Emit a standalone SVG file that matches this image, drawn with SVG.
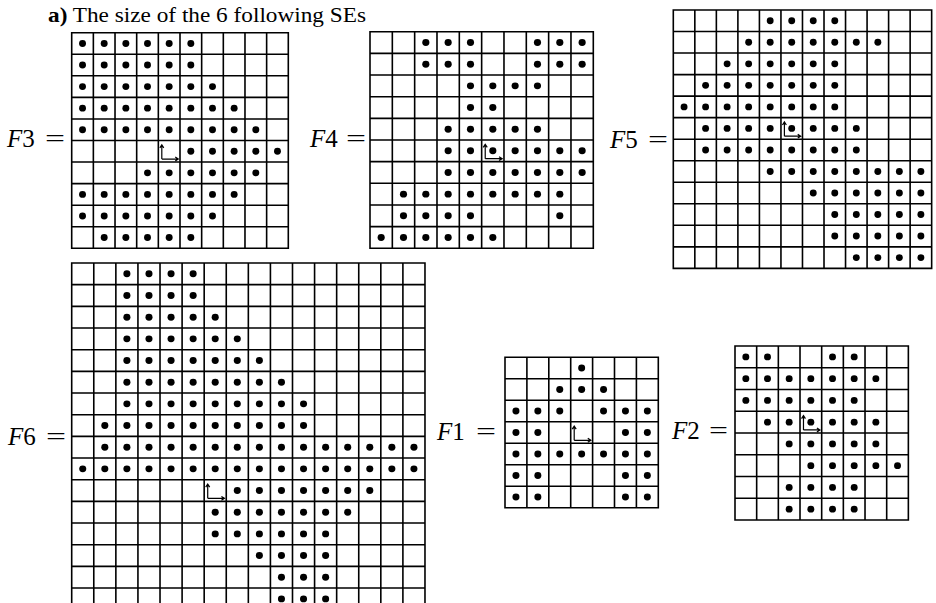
<svg xmlns="http://www.w3.org/2000/svg" xmlns:xlink="http://www.w3.org/1999/xlink" width="936" height="603" viewBox="0 0 936 603">
<defs>
<style>
.grid{fill:none;stroke:#000;stroke-width:1.6;stroke-linecap:square;vector-effect:non-scaling-stroke}
.dots{fill:#000}
.ax{fill:none;stroke:#000;stroke-width:1.2;vector-effect:non-scaling-stroke}
.lbl{font-family:"Liberation Serif","Times New Roman",serif;font-size:25px;fill:#000}
.title{font-family:"Liberation Serif","Times New Roman",serif;font-size:22px;fill:#000}
</style>
<g id="o"><path class="ax" d="M.16 .86V.2M.16 .86H.92M.07 .34L.16 .2L.25 .34M.78 .77L.92 .86L.78 .95"/></g>
</defs>
<rect width="936" height="603" fill="#fff"/>
<text class="title" x="48" y="22" textLength="318" lengthAdjust="spacingAndGlyphs"><tspan font-weight="bold">a)</tspan> The size of the 6 following SEs</text>

<g id="F3">
<text class="lbl" x="7" y="147"><tspan font-style="italic">F</tspan>3</text>
<text class="lbl" x="45" y="147" textLength="20" lengthAdjust="spacingAndGlyphs">=</text>
<g transform="translate(71.7,32.7) scale(21.66,21.56)">
<path class="grid" d="M0 0H10M0 1H10M0 2H10M0 3H10M0 4H10M0 5H10M0 6H10M0 7H10M0 8H10M0 9H10M0 10H10M0 0V10M1 0V10M2 0V10M3 0V10M4 0V10M5 0V10M6 0V10M7 0V10M8 0V10M9 0V10M10 0V10"/>
<g class="dots">
<circle cx=".5" cy=".5" r=".16"/><circle cx="1.5" cy=".5" r=".16"/><circle cx="2.5" cy=".5" r=".16"/><circle cx="3.5" cy=".5" r=".16"/><circle cx="4.5" cy=".5" r=".16"/><circle cx="5.5" cy=".5" r=".16"/>
<circle cx=".5" cy="1.5" r=".16"/><circle cx="1.5" cy="1.5" r=".16"/><circle cx="2.5" cy="1.5" r=".16"/><circle cx="3.5" cy="1.5" r=".16"/><circle cx="4.5" cy="1.5" r=".16"/><circle cx="5.5" cy="1.5" r=".16"/>
<circle cx=".5" cy="2.5" r=".16"/><circle cx="1.5" cy="2.5" r=".16"/><circle cx="2.5" cy="2.5" r=".16"/><circle cx="3.5" cy="2.5" r=".16"/><circle cx="4.5" cy="2.5" r=".16"/><circle cx="5.5" cy="2.5" r=".16"/><circle cx="6.5" cy="2.5" r=".16"/>
<circle cx=".5" cy="3.5" r=".16"/><circle cx="1.5" cy="3.5" r=".16"/><circle cx="2.5" cy="3.5" r=".16"/><circle cx="3.5" cy="3.5" r=".16"/><circle cx="4.5" cy="3.5" r=".16"/><circle cx="5.5" cy="3.5" r=".16"/><circle cx="6.5" cy="3.5" r=".16"/><circle cx="7.5" cy="3.5" r=".16"/>
<circle cx=".5" cy="4.5" r=".16"/><circle cx="1.5" cy="4.5" r=".16"/><circle cx="2.5" cy="4.5" r=".16"/><circle cx="3.5" cy="4.5" r=".16"/><circle cx="4.5" cy="4.5" r=".16"/><circle cx="5.5" cy="4.5" r=".16"/><circle cx="6.5" cy="4.5" r=".16"/><circle cx="7.5" cy="4.5" r=".16"/><circle cx="8.5" cy="4.5" r=".16"/>
<circle cx="5.5" cy="5.5" r=".16"/><circle cx="6.5" cy="5.5" r=".16"/><circle cx="7.5" cy="5.5" r=".16"/><circle cx="8.5" cy="5.5" r=".16"/><circle cx="9.5" cy="5.5" r=".16"/>
<circle cx="3.5" cy="6.5" r=".16"/><circle cx="4.5" cy="6.5" r=".16"/><circle cx="5.5" cy="6.5" r=".16"/><circle cx="6.5" cy="6.5" r=".16"/><circle cx="7.5" cy="6.5" r=".16"/><circle cx="8.5" cy="6.5" r=".16"/>
<circle cx=".5" cy="7.5" r=".16"/><circle cx="1.5" cy="7.5" r=".16"/><circle cx="2.5" cy="7.5" r=".16"/><circle cx="3.5" cy="7.5" r=".16"/><circle cx="4.5" cy="7.5" r=".16"/><circle cx="5.5" cy="7.5" r=".16"/><circle cx="6.5" cy="7.5" r=".16"/><circle cx="7.5" cy="7.5" r=".16"/>
<circle cx=".5" cy="8.5" r=".16"/><circle cx="1.5" cy="8.5" r=".16"/><circle cx="2.5" cy="8.5" r=".16"/><circle cx="3.5" cy="8.5" r=".16"/><circle cx="4.5" cy="8.5" r=".16"/><circle cx="5.5" cy="8.5" r=".16"/><circle cx="6.5" cy="8.5" r=".16"/>
<circle cx="1.5" cy="9.5" r=".16"/><circle cx="2.5" cy="9.5" r=".16"/><circle cx="3.5" cy="9.5" r=".16"/><circle cx="4.5" cy="9.5" r=".16"/><circle cx="5.5" cy="9.5" r=".16"/>
</g>
<use xlink:href="#o" href="#o" transform="translate(4,5)"/>
</g>
</g>

<g id="F4">
<text class="lbl" x="310" y="147"><tspan font-style="italic">F</tspan>4</text>
<text class="lbl" x="346" y="147" textLength="20" lengthAdjust="spacingAndGlyphs">=</text>
<g transform="translate(370,31.7) scale(22.33,21.66)">
<path class="grid" d="M0 0H10M0 1H10M0 2H10M0 3H10M0 4H10M0 5H10M0 6H10M0 7H10M0 8H10M0 9H10M0 10H10M0 0V10M1 0V10M2 0V10M3 0V10M4 0V10M5 0V10M6 0V10M7 0V10M8 0V10M9 0V10M10 0V10"/>
<g class="dots">
<circle cx="2.5" cy=".5" r=".16"/><circle cx="3.5" cy=".5" r=".16"/><circle cx="4.5" cy=".5" r=".16"/><circle cx="7.5" cy=".5" r=".16"/><circle cx="8.5" cy=".5" r=".16"/><circle cx="9.5" cy=".5" r=".16"/>
<circle cx="2.5" cy="1.5" r=".16"/><circle cx="3.5" cy="1.5" r=".16"/><circle cx="4.5" cy="1.5" r=".16"/><circle cx="7.5" cy="1.5" r=".16"/><circle cx="8.5" cy="1.5" r=".16"/><circle cx="9.5" cy="1.5" r=".16"/>
<circle cx="4.5" cy="2.5" r=".16"/><circle cx="5.5" cy="2.5" r=".16"/><circle cx="6.5" cy="2.5" r=".16"/><circle cx="7.5" cy="2.5" r=".16"/>
<circle cx="4.5" cy="3.5" r=".16"/><circle cx="5.5" cy="3.5" r=".16"/>
<circle cx="3.5" cy="4.5" r=".16"/><circle cx="4.5" cy="4.5" r=".16"/><circle cx="5.5" cy="4.5" r=".16"/><circle cx="6.5" cy="4.5" r=".16"/><circle cx="7.5" cy="4.5" r=".16"/>
<circle cx="3.5" cy="5.5" r=".16"/><circle cx="4.5" cy="5.5" r=".16"/><circle cx="5.5" cy="5.5" r=".16"/><circle cx="6.5" cy="5.5" r=".16"/><circle cx="7.5" cy="5.5" r=".16"/><circle cx="8.5" cy="5.5" r=".16"/><circle cx="9.5" cy="5.5" r=".16"/>
<circle cx="3.5" cy="6.5" r=".16"/><circle cx="4.5" cy="6.5" r=".16"/><circle cx="5.5" cy="6.5" r=".16"/><circle cx="6.5" cy="6.5" r=".16"/><circle cx="7.5" cy="6.5" r=".16"/><circle cx="8.5" cy="6.5" r=".16"/><circle cx="9.5" cy="6.5" r=".16"/>
<circle cx="1.5" cy="7.5" r=".16"/><circle cx="2.5" cy="7.5" r=".16"/><circle cx="3.5" cy="7.5" r=".16"/><circle cx="4.5" cy="7.5" r=".16"/><circle cx="5.5" cy="7.5" r=".16"/><circle cx="6.5" cy="7.5" r=".16"/><circle cx="7.5" cy="7.5" r=".16"/><circle cx="8.5" cy="7.5" r=".16"/>
<circle cx="1.5" cy="8.5" r=".16"/><circle cx="2.5" cy="8.5" r=".16"/><circle cx="3.5" cy="8.5" r=".16"/><circle cx="4.5" cy="8.5" r=".16"/><circle cx="8.5" cy="8.5" r=".16"/>
<circle cx=".5" cy="9.5" r=".16"/><circle cx="1.5" cy="9.5" r=".16"/><circle cx="2.5" cy="9.5" r=".16"/><circle cx="3.5" cy="9.5" r=".16"/><circle cx="4.5" cy="9.5" r=".16"/><circle cx="5.5" cy="9.5" r=".16"/>
</g>
<use xlink:href="#o" href="#o" transform="translate(5,5)"/>
</g>
</g>

<g id="F5">
<text class="lbl" x="610" y="148"><tspan font-style="italic">F</tspan>5</text>
<text class="lbl" x="648" y="148" textLength="20" lengthAdjust="spacingAndGlyphs">=</text>
<g transform="translate(673.3,10) scale(21.53,21.53)">
<path class="grid" d="M0 0H12M0 1H12M0 2H12M0 3H12M0 4H12M0 5H12M0 6H12M0 7H12M0 8H12M0 9H12M0 10H12M0 11H12M0 12H12M0 0V12M1 0V12M2 0V12M3 0V12M4 0V12M5 0V12M6 0V12M7 0V12M8 0V12M9 0V12M10 0V12M11 0V12M12 0V12"/>
<g class="dots">
<circle cx="4.5" cy=".5" r=".16"/><circle cx="5.5" cy=".5" r=".16"/><circle cx="6.5" cy=".5" r=".16"/><circle cx="7.5" cy=".5" r=".16"/>
<circle cx="3.5" cy="1.5" r=".16"/><circle cx="4.5" cy="1.5" r=".16"/><circle cx="5.5" cy="1.5" r=".16"/><circle cx="6.5" cy="1.5" r=".16"/><circle cx="7.5" cy="1.5" r=".16"/><circle cx="8.5" cy="1.5" r=".16"/><circle cx="9.5" cy="1.5" r=".16"/>
<circle cx="2.5" cy="2.5" r=".16"/><circle cx="3.5" cy="2.5" r=".16"/><circle cx="4.5" cy="2.5" r=".16"/><circle cx="5.5" cy="2.5" r=".16"/><circle cx="6.5" cy="2.5" r=".16"/><circle cx="7.5" cy="2.5" r=".16"/>
<circle cx="1.5" cy="3.5" r=".16"/><circle cx="2.5" cy="3.5" r=".16"/><circle cx="3.5" cy="3.5" r=".16"/><circle cx="4.5" cy="3.5" r=".16"/><circle cx="5.5" cy="3.5" r=".16"/><circle cx="6.5" cy="3.5" r=".16"/><circle cx="7.5" cy="3.5" r=".16"/>
<circle cx=".5" cy="4.5" r=".16"/><circle cx="1.5" cy="4.5" r=".16"/><circle cx="2.5" cy="4.5" r=".16"/><circle cx="3.5" cy="4.5" r=".16"/><circle cx="4.5" cy="4.5" r=".16"/><circle cx="5.5" cy="4.5" r=".16"/><circle cx="6.5" cy="4.5" r=".16"/><circle cx="7.5" cy="4.5" r=".16"/>
<circle cx="1.5" cy="5.5" r=".16"/><circle cx="2.5" cy="5.5" r=".16"/><circle cx="3.5" cy="5.5" r=".16"/><circle cx="4.5" cy="5.5" r=".16"/><circle cx="5.5" cy="5.5" r=".16"/><circle cx="6.5" cy="5.5" r=".16"/><circle cx="7.5" cy="5.5" r=".16"/><circle cx="8.5" cy="5.5" r=".16"/>
<circle cx="1.5" cy="6.5" r=".16"/><circle cx="2.5" cy="6.5" r=".16"/><circle cx="3.5" cy="6.5" r=".16"/><circle cx="4.5" cy="6.5" r=".16"/><circle cx="5.5" cy="6.5" r=".16"/><circle cx="6.5" cy="6.5" r=".16"/><circle cx="7.5" cy="6.5" r=".16"/><circle cx="8.5" cy="6.5" r=".16"/>
<circle cx="4.5" cy="7.5" r=".16"/><circle cx="5.5" cy="7.5" r=".16"/><circle cx="6.5" cy="7.5" r=".16"/><circle cx="7.5" cy="7.5" r=".16"/><circle cx="8.5" cy="7.5" r=".16"/><circle cx="9.5" cy="7.5" r=".16"/><circle cx="10.5" cy="7.5" r=".16"/><circle cx="11.5" cy="7.5" r=".16"/>
<circle cx="6.5" cy="8.5" r=".16"/><circle cx="7.5" cy="8.5" r=".16"/><circle cx="8.5" cy="8.5" r=".16"/><circle cx="9.5" cy="8.5" r=".16"/><circle cx="10.5" cy="8.5" r=".16"/><circle cx="11.5" cy="8.5" r=".16"/>
<circle cx="7.5" cy="9.5" r=".16"/><circle cx="8.5" cy="9.5" r=".16"/><circle cx="9.5" cy="9.5" r=".16"/><circle cx="10.5" cy="9.5" r=".16"/><circle cx="11.5" cy="9.5" r=".16"/>
<circle cx="7.5" cy="10.5" r=".16"/><circle cx="8.5" cy="10.5" r=".16"/><circle cx="9.5" cy="10.5" r=".16"/><circle cx="10.5" cy="10.5" r=".16"/><circle cx="11.5" cy="10.5" r=".16"/>
<circle cx="8.5" cy="11.5" r=".16"/><circle cx="9.5" cy="11.5" r=".16"/><circle cx="10.5" cy="11.5" r=".16"/><circle cx="11.5" cy="11.5" r=".16"/>
</g>
<use xlink:href="#o" href="#o" transform="translate(5,5)"/>
</g>
</g>

<g id="F6">
<text class="lbl" x="8" y="445"><tspan font-style="italic">F</tspan>6</text>
<text class="lbl" x="46" y="445" textLength="20" lengthAdjust="spacingAndGlyphs">=</text>
<g transform="translate(71.7,263) scale(22.08,21.67)">
<path class="grid" d="M0 0H16M0 1H16M0 2H16M0 3H16M0 4H16M0 5H16M0 6H16M0 7H16M0 8H16M0 9H16M0 10H16M0 11H16M0 12H16M0 13H16M0 14H16M0 15H16M0 16H16M0 0V16M1 0V16M2 0V16M3 0V16M4 0V16M5 0V16M6 0V16M7 0V16M8 0V16M9 0V16M10 0V16M11 0V16M12 0V16M13 0V16M14 0V16M15 0V16M16 0V16"/>
<g class="dots">
<circle cx="2.5" cy=".5" r=".16"/><circle cx="3.5" cy=".5" r=".16"/><circle cx="4.5" cy=".5" r=".16"/><circle cx="5.5" cy=".5" r=".16"/>
<circle cx="2.5" cy="1.5" r=".16"/><circle cx="3.5" cy="1.5" r=".16"/><circle cx="4.5" cy="1.5" r=".16"/><circle cx="5.5" cy="1.5" r=".16"/>
<circle cx="2.5" cy="2.5" r=".16"/><circle cx="3.5" cy="2.5" r=".16"/><circle cx="4.5" cy="2.5" r=".16"/><circle cx="5.5" cy="2.5" r=".16"/><circle cx="6.5" cy="2.5" r=".16"/>
<circle cx="2.5" cy="3.5" r=".16"/><circle cx="3.5" cy="3.5" r=".16"/><circle cx="4.5" cy="3.5" r=".16"/><circle cx="5.5" cy="3.5" r=".16"/><circle cx="6.5" cy="3.5" r=".16"/><circle cx="7.5" cy="3.5" r=".16"/>
<circle cx="2.5" cy="4.5" r=".16"/><circle cx="3.5" cy="4.5" r=".16"/><circle cx="4.5" cy="4.5" r=".16"/><circle cx="5.5" cy="4.5" r=".16"/><circle cx="6.5" cy="4.5" r=".16"/><circle cx="7.5" cy="4.5" r=".16"/><circle cx="8.5" cy="4.5" r=".16"/>
<circle cx="2.5" cy="5.5" r=".16"/><circle cx="3.5" cy="5.5" r=".16"/><circle cx="4.5" cy="5.5" r=".16"/><circle cx="5.5" cy="5.5" r=".16"/><circle cx="6.5" cy="5.5" r=".16"/><circle cx="7.5" cy="5.5" r=".16"/><circle cx="8.5" cy="5.5" r=".16"/><circle cx="9.5" cy="5.5" r=".16"/>
<circle cx="2.5" cy="6.5" r=".16"/><circle cx="3.5" cy="6.5" r=".16"/><circle cx="4.5" cy="6.5" r=".16"/><circle cx="5.5" cy="6.5" r=".16"/><circle cx="6.5" cy="6.5" r=".16"/><circle cx="7.5" cy="6.5" r=".16"/><circle cx="8.5" cy="6.5" r=".16"/><circle cx="9.5" cy="6.5" r=".16"/><circle cx="10.5" cy="6.5" r=".16"/>
<circle cx="1.5" cy="7.5" r=".16"/><circle cx="2.5" cy="7.5" r=".16"/><circle cx="3.5" cy="7.5" r=".16"/><circle cx="4.5" cy="7.5" r=".16"/><circle cx="5.5" cy="7.5" r=".16"/><circle cx="6.5" cy="7.5" r=".16"/><circle cx="7.5" cy="7.5" r=".16"/><circle cx="8.5" cy="7.5" r=".16"/><circle cx="9.5" cy="7.5" r=".16"/><circle cx="10.5" cy="7.5" r=".16"/>
<circle cx="1.5" cy="8.5" r=".16"/><circle cx="2.5" cy="8.5" r=".16"/><circle cx="3.5" cy="8.5" r=".16"/><circle cx="4.5" cy="8.5" r=".16"/><circle cx="5.5" cy="8.5" r=".16"/><circle cx="6.5" cy="8.5" r=".16"/><circle cx="7.5" cy="8.5" r=".16"/><circle cx="8.5" cy="8.5" r=".16"/><circle cx="9.5" cy="8.5" r=".16"/><circle cx="10.5" cy="8.5" r=".16"/><circle cx="11.5" cy="8.5" r=".16"/><circle cx="12.5" cy="8.5" r=".16"/><circle cx="13.5" cy="8.5" r=".16"/><circle cx="14.5" cy="8.5" r=".16"/><circle cx="15.5" cy="8.5" r=".16"/>
<circle cx=".5" cy="9.5" r=".16"/><circle cx="1.5" cy="9.5" r=".16"/><circle cx="2.5" cy="9.5" r=".16"/><circle cx="3.5" cy="9.5" r=".16"/><circle cx="4.5" cy="9.5" r=".16"/><circle cx="5.5" cy="9.5" r=".16"/><circle cx="6.5" cy="9.5" r=".16"/><circle cx="7.5" cy="9.5" r=".16"/><circle cx="8.5" cy="9.5" r=".16"/><circle cx="9.5" cy="9.5" r=".16"/><circle cx="10.5" cy="9.5" r=".16"/><circle cx="11.5" cy="9.5" r=".16"/><circle cx="12.5" cy="9.5" r=".16"/><circle cx="13.5" cy="9.5" r=".16"/><circle cx="14.5" cy="9.5" r=".16"/><circle cx="15.5" cy="9.5" r=".16"/>
<circle cx="7.5" cy="10.5" r=".16"/><circle cx="8.5" cy="10.5" r=".16"/><circle cx="9.5" cy="10.5" r=".16"/><circle cx="10.5" cy="10.5" r=".16"/><circle cx="11.5" cy="10.5" r=".16"/><circle cx="12.5" cy="10.5" r=".16"/><circle cx="13.5" cy="10.5" r=".16"/>
<circle cx="6.5" cy="11.5" r=".16"/><circle cx="7.5" cy="11.5" r=".16"/><circle cx="8.5" cy="11.5" r=".16"/><circle cx="9.5" cy="11.5" r=".16"/><circle cx="10.5" cy="11.5" r=".16"/><circle cx="11.5" cy="11.5" r=".16"/><circle cx="12.5" cy="11.5" r=".16"/>
<circle cx="6.5" cy="12.5" r=".16"/><circle cx="7.5" cy="12.5" r=".16"/><circle cx="8.5" cy="12.5" r=".16"/><circle cx="9.5" cy="12.5" r=".16"/><circle cx="10.5" cy="12.5" r=".16"/><circle cx="11.5" cy="12.5" r=".16"/>
<circle cx="8.5" cy="13.5" r=".16"/><circle cx="9.5" cy="13.5" r=".16"/><circle cx="10.5" cy="13.5" r=".16"/><circle cx="11.5" cy="13.5" r=".16"/>
<circle cx="9.5" cy="14.5" r=".16"/><circle cx="10.5" cy="14.5" r=".16"/><circle cx="11.5" cy="14.5" r=".16"/>
<circle cx="9.5" cy="15.5" r=".16"/><circle cx="10.5" cy="15.5" r=".16"/><circle cx="11.5" cy="15.5" r=".16"/>
</g>
<use xlink:href="#o" href="#o" transform="translate(6,10)"/>
</g>
</g>

<g id="F1">
<text class="lbl" x="437" y="440"><tspan font-style="italic">F</tspan>1</text>
<text class="lbl" x="476" y="440" textLength="20" lengthAdjust="spacingAndGlyphs">=</text>
<g transform="translate(505,357.3) scale(21.9,21.5)">
<path class="grid" d="M0 0H7M0 1H7M0 2H7M0 3H7M0 4H7M0 5H7M0 6H7M0 7H7M0 0V7M1 0V7M2 0V7M3 0V7M4 0V7M5 0V7M6 0V7M7 0V7"/>
<g class="dots">
<circle cx="3.5" cy=".5" r=".16"/>
<circle cx="2.5" cy="1.5" r=".16"/><circle cx="3.5" cy="1.5" r=".16"/><circle cx="4.5" cy="1.5" r=".16"/>
<circle cx=".5" cy="2.5" r=".16"/><circle cx="1.5" cy="2.5" r=".16"/><circle cx="2.5" cy="2.5" r=".16"/><circle cx="4.5" cy="2.5" r=".16"/><circle cx="5.5" cy="2.5" r=".16"/><circle cx="6.5" cy="2.5" r=".16"/>
<circle cx=".5" cy="3.5" r=".16"/><circle cx="1.5" cy="3.5" r=".16"/><circle cx="5.5" cy="3.5" r=".16"/><circle cx="6.5" cy="3.5" r=".16"/>
<circle cx=".5" cy="4.5" r=".16"/><circle cx="1.5" cy="4.5" r=".16"/><circle cx="2.5" cy="4.5" r=".16"/><circle cx="3.5" cy="4.5" r=".16"/><circle cx="4.5" cy="4.5" r=".16"/><circle cx="5.5" cy="4.5" r=".16"/><circle cx="6.5" cy="4.5" r=".16"/>
<circle cx=".5" cy="5.5" r=".16"/><circle cx="1.5" cy="5.5" r=".16"/><circle cx="5.5" cy="5.5" r=".16"/><circle cx="6.5" cy="5.5" r=".16"/>
<circle cx=".5" cy="6.5" r=".16"/><circle cx="1.5" cy="6.5" r=".16"/><circle cx="5.5" cy="6.5" r=".16"/><circle cx="6.5" cy="6.5" r=".16"/>
</g>
<use xlink:href="#o" href="#o" transform="translate(3,3)"/>
</g>
</g>

<g id="F2">
<text class="lbl" x="672" y="439"><tspan font-style="italic">F</tspan>2</text>
<text class="lbl" x="709" y="439" textLength="19" lengthAdjust="spacingAndGlyphs">=</text>
<g transform="translate(735,346) scale(21.67,21.75)">
<path class="grid" d="M0 0H8M0 1H8M0 2H8M0 3H8M0 4H8M0 5H8M0 6H8M0 7H8M0 8H8M0 0V8M1 0V8M2 0V8M3 0V8M4 0V8M5 0V8M6 0V8M7 0V8M8 0V8"/>
<g class="dots">
<circle cx=".5" cy=".5" r=".16"/><circle cx="1.5" cy=".5" r=".16"/><circle cx="4.5" cy=".5" r=".16"/><circle cx="5.5" cy=".5" r=".16"/>
<circle cx=".5" cy="1.5" r=".16"/><circle cx="1.5" cy="1.5" r=".16"/><circle cx="2.5" cy="1.5" r=".16"/><circle cx="3.5" cy="1.5" r=".16"/><circle cx="4.5" cy="1.5" r=".16"/><circle cx="5.5" cy="1.5" r=".16"/><circle cx="6.5" cy="1.5" r=".16"/>
<circle cx=".5" cy="2.5" r=".16"/><circle cx="1.5" cy="2.5" r=".16"/><circle cx="2.5" cy="2.5" r=".16"/><circle cx="3.5" cy="2.5" r=".16"/><circle cx="4.5" cy="2.5" r=".16"/><circle cx="5.5" cy="2.5" r=".16"/>
<circle cx="1.5" cy="3.5" r=".16"/><circle cx="2.5" cy="3.5" r=".16"/><circle cx="3.5" cy="3.5" r=".16"/><circle cx="4.5" cy="3.5" r=".16"/><circle cx="5.5" cy="3.5" r=".16"/><circle cx="6.5" cy="3.5" r=".16"/>
<circle cx="2.5" cy="4.5" r=".16"/><circle cx="3.5" cy="4.5" r=".16"/><circle cx="4.5" cy="4.5" r=".16"/><circle cx="5.5" cy="4.5" r=".16"/><circle cx="6.5" cy="4.5" r=".16"/>
<circle cx="3.5" cy="5.5" r=".16"/><circle cx="4.5" cy="5.5" r=".16"/><circle cx="5.5" cy="5.5" r=".16"/><circle cx="6.5" cy="5.5" r=".16"/><circle cx="7.5" cy="5.5" r=".16"/>
<circle cx="2.5" cy="6.5" r=".16"/><circle cx="3.5" cy="6.5" r=".16"/><circle cx="4.5" cy="6.5" r=".16"/><circle cx="5.5" cy="6.5" r=".16"/>
<circle cx="2.5" cy="7.5" r=".16"/><circle cx="3.5" cy="7.5" r=".16"/><circle cx="4.5" cy="7.5" r=".16"/><circle cx="5.5" cy="7.5" r=".16"/>
</g>
<use xlink:href="#o" href="#o" transform="translate(3,3)"/>
</g>
</g>

<g id="connectors"/>
</svg>
